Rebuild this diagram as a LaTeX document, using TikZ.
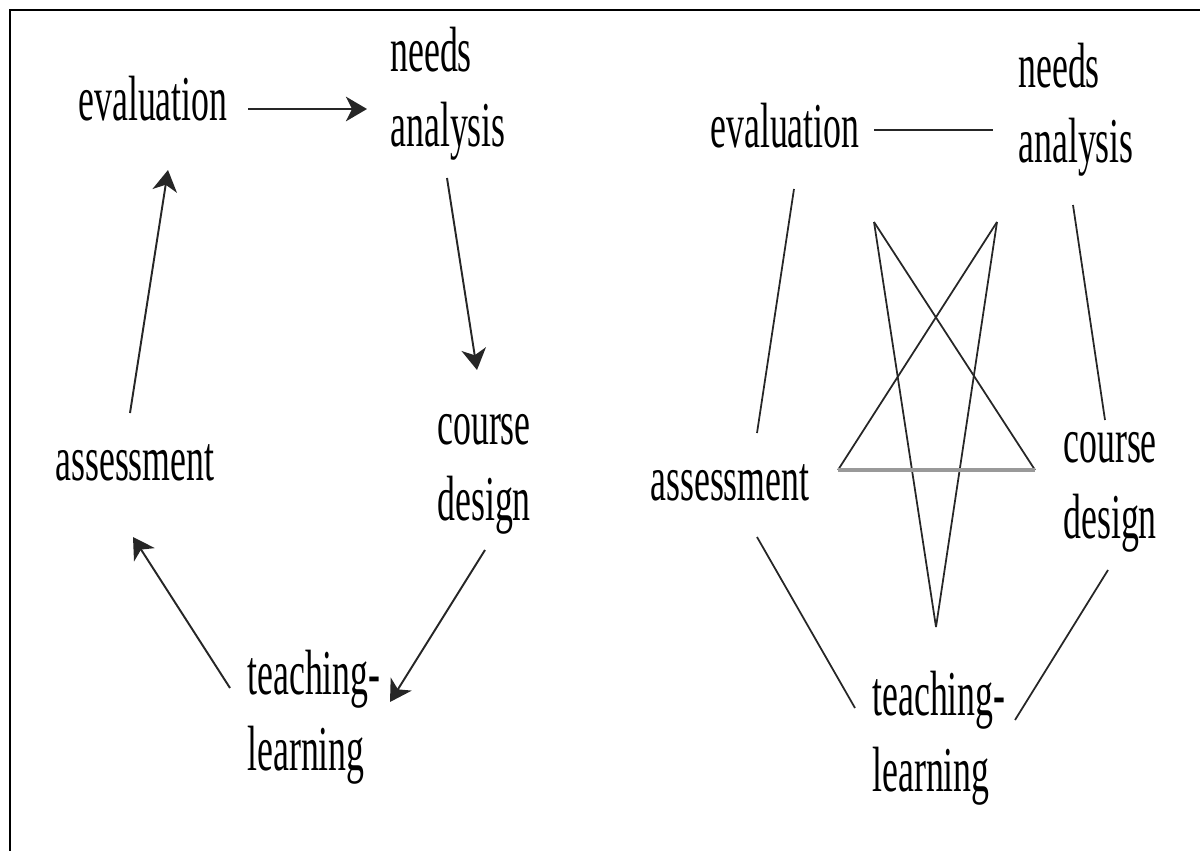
\documentclass[tikz,border=0pt]{standalone}
\usepackage{fontspec}
\setmainfont{Liberation Serif}[FakeStretch=0.56]
\usetikzlibrary{arrows.meta}

\tikzset{
  lbl/.style={inner sep=0pt,anchor=base west,align=left,font=\fontsize{36.4}{42.7}\selectfont},
  arr/.style={draw=black!85,line width=1.1pt,-{Stealth[length=12pt,width=14pt,inset=3.5pt]}},
  link/.style={draw=black!85,line width=1pt},
}

\begin{document}
\begin{tikzpicture}[x=0.02cm,y=-0.02cm]
	\useasboundingbox (0,0) rectangle (1200,851);
	% frame, open to the right and bottom
	\draw[line width=1.6pt] (1200,10) -- (10,10) -- (10,851);

	% linear cycle (two-line labels sit on their last baseline)
	\node[lbl] (evalL) at (78,121) {evaluation};
	\node[lbl] (needsL) at (390,147) {needs\\analysis};
	\node[lbl] (courseL) at (437,520) {course\\design};
	\node[lbl] (teachL) at (247,770) {teaching-\\learning};
	\node[lbl] (assessL) at (55,480) {assessment};
	\draw[arr,line width=1.4pt] ([shift={(170,-12)}]evalL.base west) -- ([shift={(-23,-38)}]needsL.base west);
	\draw[arr] ([shift={(57,31)}]needsL.base west) -- ([shift={(40,-150)}]courseL.base west);
	\draw[arr] ([shift={(48,30)}]courseL.base west) -- ([shift={(143,-68)}]teachL.base west);
	\draw[arr] ([shift={(-17,-82)}]teachL.base west) -- ([shift={(78,57)}]assessL.base west);
	\draw[arr] ([shift={(75,-67)}]assessL.base west) -- ([shift={(90,49)}]evalL.base west);

	% every stage linked to every other
	\node[lbl] (evalR) at (710,148) {evaluation};
	\node[lbl] (needsR) at (1018,163) {needs\\analysis};
	\node[lbl] (courseR) at (1063,538) {course\\design};
	\node[lbl] (teachR) at (872,791) {teaching-\\learning};
	\node[lbl] (assessR) at (650,500) {assessment};
	\draw[link,line width=1.3pt] ([shift={(164,-18)}]evalR.base west) -- ([shift={(-25,-33)}]needsR.base west);
	\draw[link] ([shift={(84,41)}]evalR.base west) -- ([shift={(107,-67)}]assessR.base west);
	\draw[link] ([shift={(55,42)}]needsR.base west) -- ([shift={(42,-118)}]courseR.base west);
	\draw[link] ([shift={(45,32)}]courseR.base west) -- ([shift={(143,-71)}]teachR.base west);
	\draw[link] ([shift={(107,37)}]assessR.base west) -- ([shift={(-17,-83)}]teachR.base west);

	% the crossing links in the middle
	\coordinate (sA) at (874,222);
	\coordinate (sB) at (997,222);
	\coordinate (sC) at (838,470);
	\coordinate (sD) at (1035,470);
	\coordinate (sE) at (936,627);
	\draw[link] (sA) -- (sD);
	\draw[link] (sA) -- (sE);
	\draw[link] (sB) -- (sC);
	\draw[link] (sB) -- (sE);
	\draw[draw=black!40,line width=2.2pt] (sC) -- (sD);
\end{tikzpicture}
\end{document}
